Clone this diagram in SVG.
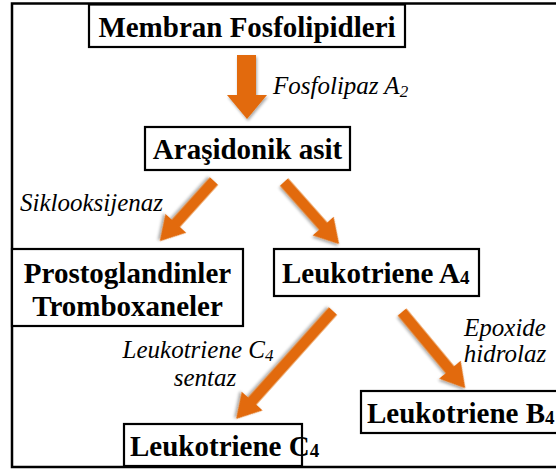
<svg xmlns="http://www.w3.org/2000/svg" width="556" height="470" viewBox="0 0 556 470">
<defs>
<style>
.box{fill:#fff;stroke:#000;stroke-width:2.2}
.b{font-family:"Liberation Serif","Times New Roman",serif;font-weight:bold;font-size:29px;fill:#000}
.i{font-family:"Liberation Serif","Times New Roman",serif;font-style:italic;font-size:25px;fill:#000}
.arr{fill:#E26B0A;filter:url(#sh)}
</style>
<filter id="sh" x="-30%" y="-30%" width="160%" height="160%">
<feGaussianBlur in="SourceAlpha" stdDeviation="1.5"/>
<feOffset dx="1" dy="1.5" result="o"/>
<feComponentTransfer><feFuncA type="linear" slope="0.35"/></feComponentTransfer>
<feMerge><feMergeNode/><feMergeNode in="SourceGraphic"/></feMerge>
</filter>
</defs>
<rect x="12" y="3.5" width="560" height="463.5" fill="#fff" stroke="#000" stroke-width="2.5"/>
<g id="connectors">
<path class="arr" d="M237,55 H256 V95 H267 L247,119 L227,95 H237 Z"/>
<path class="arr" transform="translate(214,181) rotate(132)" d="M0,-5.5 H57 V-14 L81,0 L57,14 V5.5 H0 Z"/>
<path class="arr" transform="translate(284,182) rotate(48.4)" d="M0,-5.5 H59 V-14 L83,0 L59,14 V5.5 H0 Z"/>
<path class="arr" transform="translate(333,311) rotate(131.9)" d="M0,-5.5 H121 V-14 L145,0 L121,14 V5.5 H0 Z"/>
<path class="arr" transform="translate(402,312) rotate(50.3)" d="M0,-5.5 H75 V-14 L99,0 L75,14 V5.5 H0 Z"/>
<text class="i" x="273" y="94">Fosfolipaz A<tspan font-size="17" dy="3">2</tspan></text>
<text class="i" x="20" y="211">Siklooksijenaz</text>
<text class="i" x="198" y="358" text-anchor="middle">Leukotriene C<tspan font-size="17" dy="3">4</tspan></text>
<text class="i" x="205" y="386" text-anchor="middle">sentaz</text>
<text class="i" x="505" y="336" text-anchor="middle">Epoxide</text>
<text class="i" x="505" y="362" text-anchor="middle">hidrolaz</text>
</g>
<g id="membran">
<rect class="box" x="89" y="4.5" width="316" height="42.5"/>
<text class="b" x="247" y="37" text-anchor="middle">Membran Fosfolipidleri</text>
</g>
<g id="arasidonik">
<rect class="box" x="145" y="127" width="205" height="43"/>
<text class="b" x="247.5" y="159" text-anchor="middle">Araşidonik asit</text>
</g>
<g id="prostoglandinler">
<rect class="box" x="12" y="249" width="231" height="77"/>
<text class="b" x="127.5" y="283" text-anchor="middle">Prostoglandinler</text>
<text class="b" x="127.5" y="316" text-anchor="middle">Tromboxaneler</text>
</g>
<g id="lta4">
<rect class="box" x="274" y="249" width="205" height="47"/>
<text class="b" x="282" y="283">Leukotriene A<tspan font-size="19" dy="1">4</tspan></text>
</g>
<g id="ltb4">
<rect class="box" x="361" y="391" width="210" height="42"/>
<text class="b" x="367" y="423">Leukotriene B<tspan font-size="19" dy="1">4</tspan></text>
</g>
<g id="ltc4">
<rect class="box" x="124" y="424" width="178" height="42"/>
<text class="b" x="130" y="456">Leukotriene C<tspan font-size="19" dy="1">4</tspan></text>
</g>
</svg>
